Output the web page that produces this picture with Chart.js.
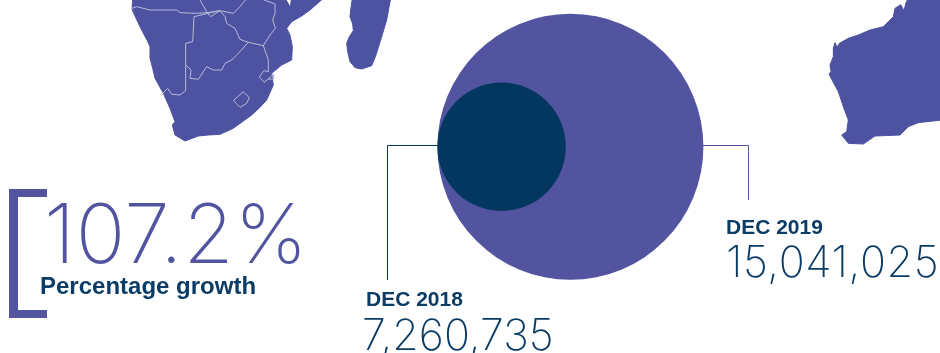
<!DOCTYPE html>
<html>
<head>
<meta charset="utf-8">
<title>Percentage growth</title>
<style>
html,body{margin:0;padding:0;background:#fff;overflow:hidden}
canvas{display:block}
</style>
</head>
<body>
<canvas id="growthChart" width="940" height="353"></canvas>
<script src="https://cdn.jsdelivr.net/npm/chart.js@4"></script>
<script>
const categories = ["DEC 2018","DEC 2019"]
const values = [7260735,15041025]
const growthText = "107.2%"
const growthLabel = "Percentage growth"

const purple = "#5254a0"
const navy = "#03375f"
const mapBlue = "#4d52a1"
const borderGrey = "#b9bad8"

// radius grows in line with the value, 15,041,025 -> 133px
const pxPerValue = 133/15041025
const leftEdge = 437.4
const middleY = 146.8

// map outlines, traced at 3x so the numbers stay whole
const africa = "M38,-5 L36,28 L48,55 L65,90 L82,122 L90,140 L90,175 L98,205 L105,235 L130,280 L150,325 L165,365 L157,375 L165,405 L195,423 L235,408 L265,405 L300,403 L340,385 L395,345 L420,322 L440,300 L460,255 L455,220 L485,195 L515,180 L517,140 L510,105 L500,85 L515,65 L545,48 L570,30 L610,-5 Z"
const lake = "M497,-5 L510,18 L513,-5 Z"
const madagascar = "M697,-5 L692,30 L690,50 L698,72 L700,92 L688,110 L680,130 L683,155 L690,185 L705,203 L725,207 L755,197 L768,165 L785,110 L800,60 L812,-5 Z"
const borders = [
"M36,25 L50,20 L90,30 L170,30 L180,38 L225,40 L262,38 L300,32 L340,40 L360,20 L380,-5",
"M237,-5 L262,38 L272,50 L300,32 L315,50 L320,70 L345,85 L360,118 L385,127",
"M298,32 L222,50 L218,125 L197,130 L197,272 L180,285 L155,283 L143,265 L130,278",
"M385,127 L355,160 L335,180 L315,190 L305,210 L280,210 L260,200 L235,238 L210,235 L213,210 L197,195",
"M420,-5 L465,12 L465,40 L458,60 L466,85 L450,105 L430,137 L385,127",
"M430,137 L445,180 L445,215 L432,212 L418,230 L432,247 L445,237 L462,237 L460,222 L445,237",
"M342,300 L370,275 L388,293 L380,310 L360,322 L343,305 Z"
]
const australia = "M385,-5 L378,8 L372,32 L362,14 L345,25 L340,50 L310,80 L270,90 L235,105 L205,115 L178,130 L172,142 L165,128 L160,145 L160,170 L150,195 L153,215 L147,222 L155,238 L175,275 L190,320 L205,360 L200,395 L185,405 L205,430 L250,432 L285,408 L360,405 L385,380 L415,368 L485,360 L485,-5 Z"

// Chart.js shrinks the plot by the largest radius; the scales below already allow for it
Chart.BubbleController.prototype.getMaxOverflow = ()=>0

function drawText(ctx,text,x,y,font,color,spacing){
ctx.font = font
ctx.fillStyle = color
ctx.letterSpacing = spacing || "0px"
ctx.textBaseline = "alphabetic"
ctx.fillText(text,x,y)
ctx.letterSpacing = "0px"
}

const mapPlugin = {
id:"maps",
beforeDatasetsDraw(chart){
const ctx = chart.ctx
ctx.save()
ctx.lineJoin = "round"
ctx.lineCap = "round"

ctx.save()
ctx.translate(120,0)
ctx.scale(1/3,1/3)
ctx.fillStyle = mapBlue
ctx.strokeStyle = mapBlue
ctx.lineWidth = 3
;[africa,madagascar].forEach(d=>{
const p = new Path2D(d)
ctx.fill(p)
ctx.stroke(p)
})
ctx.fillStyle = "#fff"
ctx.fill(new Path2D(lake))
ctx.strokeStyle = borderGrey
ctx.lineWidth = 3
borders.forEach(d=>ctx.stroke(new Path2D(d)))
ctx.restore()

ctx.save()
ctx.translate(780,0)
ctx.scale(1/3,1/3)
ctx.fillStyle = mapBlue
ctx.strokeStyle = mapBlue
ctx.lineWidth = 3
const oz = new Path2D(australia)
ctx.fill(oz)
ctx.stroke(oz)
ctx.restore()

// bracket round the growth figure
ctx.fillStyle = purple
ctx.fillRect(9,189,9,129)
ctx.fillRect(9,189,38,8)
ctx.fillRect(9,310,38,8)

// leader lines, starting from the outer edge of each circle
const small = chart.getDatasetMeta(0).data[0]
const big = chart.getDatasetMeta(1).data[0]
ctx.lineWidth = 1
ctx.lineCap = "butt"
ctx.lineJoin = "miter"
ctx.strokeStyle = navy
ctx.beginPath()
ctx.moveTo(small.x,145.5)
ctx.lineTo(387.5,145.5)
ctx.lineTo(387.5,280)
ctx.stroke()
ctx.strokeStyle = purple
ctx.beginPath()
ctx.moveTo(big.x,145.5)
ctx.lineTo(748.5,145.5)
ctx.lineTo(748.5,200)
ctx.stroke()
ctx.restore()
},
afterDatasetsDraw(chart){
const ctx = chart.ctx
ctx.save()
drawText(ctx,growthText,44,263,"200 82px Inter",purple,"0.6px")
drawText(ctx,growthLabel,40,294,"bold 24px 'Liberation Sans'","#0b3c66")
drawText(ctx,categories[0],366,306,"bold 21px 'Liberation Sans'","#0b3c66")
drawText(ctx,values[0].toLocaleString("en-US"),362,350,"200 43px Inter","#0b3c66")
drawText(ctx,categories[1],726,234,"bold 21px 'Liberation Sans'","#0b3c66")
drawText(ctx,values[1].toLocaleString("en-US"),726,277,"200 43px Inter","#0b3c66","0.6px")
ctx.restore()
}
}

// both circles touch on the left, so the centre sits one radius in from it
const points = values.map(v=>({x:v,y:0,r:v*pxPerValue}))

new Chart(document.getElementById("growthChart"),{
type:"bubble",
data:{
datasets:[
{label:categories[0],data:[points[0]],backgroundColor:navy,borderWidth:0,hoverBorderWidth:0},
{label:categories[1],data:[points[1]],backgroundColor:purple,borderWidth:0,hoverBorderWidth:0}
]
},
options:{
responsive:false,
animation:false,
events:[],
layout:{padding:0},
plugins:{legend:{display:false},title:{display:false},tooltip:{enabled:false}},
scales:{
x:{display:false,min:-leftEdge/pxPerValue,max:(940-leftEdge)/pxPerValue},
y:{display:false,min:-(353-middleY)/pxPerValue,max:middleY/pxPerValue}
}
},
plugins:[mapPlugin]
})
</script>
</body>
</html>
